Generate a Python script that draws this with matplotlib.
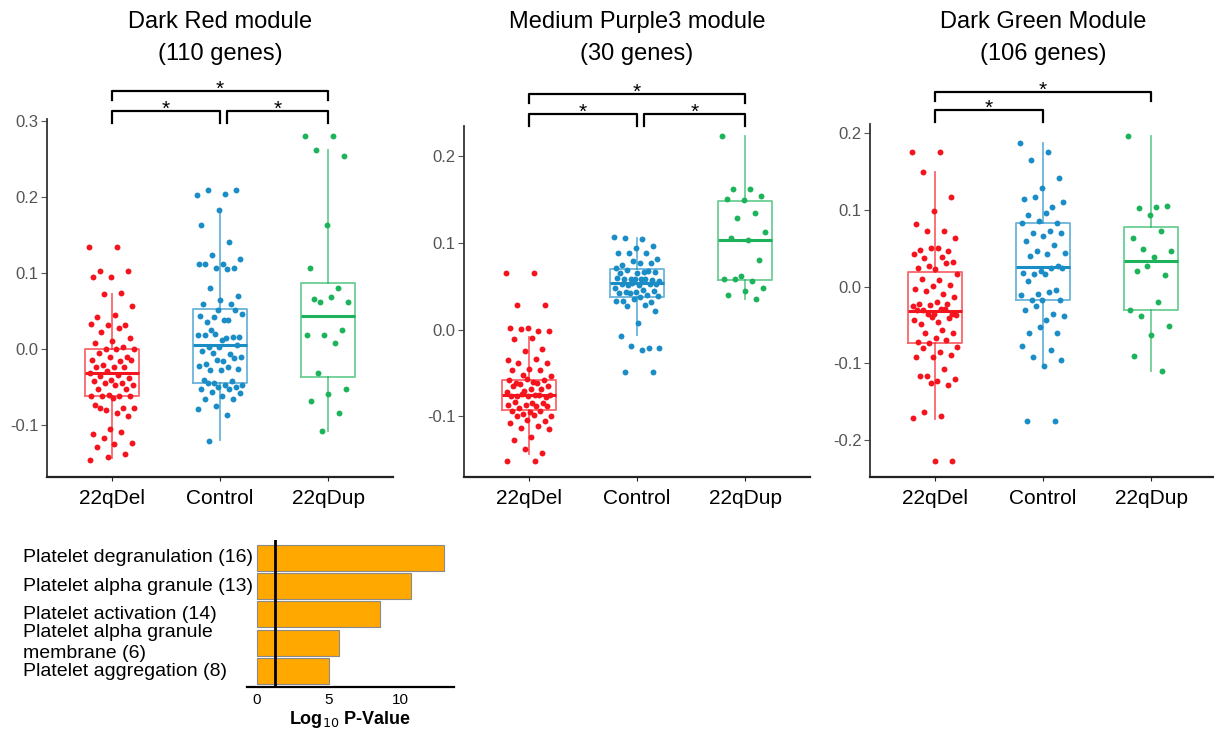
import matplotlib
matplotlib.use("Agg")
import matplotlib.pyplot as plt
import matplotlib.transforms as mtransforms
import numpy as np

plt.rcParams['font.family'] = ['Liberation Sans', 'DejaVu Sans']

groups = ['22qDel', 'Control', '22qDup']
group_colors = ['#F5141E', '#1A8CC6', '#1DB35A']

titles = ['Dark Red module\n(110 genes)',
          'Medium Purple3 module\n(30 genes)',
          'Dark Green Module\n(106 genes)']

# ---- Dark Red module: eigengene values per subject
darkred_del = [0.134, 0.134, 0.102, 0.102, 0.095, 0.095, 0.073, 0.072, 0.057, 0.045,
               0.042, 0.032, 0.031, 0.033, 0.028, 0.022, 0.015, 0.011, 0.008, 0.003,
               0.0, 0.0, 0.0, -0.005, -0.010, -0.011, -0.014, -0.016, -0.021, -0.015,
               -0.023, -0.023, -0.023, -0.029, -0.031, -0.034, -0.036, -0.038, -0.040, -0.042,
               -0.045, -0.045, -0.047, -0.047, -0.053, -0.053, -0.060, -0.062, -0.062, -0.062,
               -0.062, -0.064, -0.073, -0.077, -0.080, -0.077, -0.084, -0.077, -0.088, -0.105,
               -0.112, -0.109, -0.117, -0.123, -0.125, -0.128, -0.138, -0.142, -0.146]
darkred_ctrl = [0.202, 0.203, 0.209, 0.209, 0.183, 0.163, 0.140, 0.123, 0.118, 0.112,
                0.111, 0.106, 0.106, 0.111, 0.105, 0.080, 0.070, 0.065, 0.059, 0.059,
                0.042, 0.046, 0.038, 0.035, 0.051, 0.051, 0.043, 0.038, 0.025, 0.016,
                0.012, 0.018, 0.016, 0.020, 0.019, 0.014, 0.003, 0.005, 0.003, -0.003,
                -0.006, -0.005, -0.010, -0.016, -0.019, -0.012, -0.014, -0.022, -0.023, -0.028,
                -0.026, -0.028, -0.040, -0.042, -0.045, -0.047, -0.047, -0.045, -0.050, -0.050,
                -0.053, -0.053, -0.056, -0.058, -0.062, -0.066, -0.066, -0.075, -0.079, -0.087,
                -0.121]
darkred_dup = [0.280, 0.280, 0.261, 0.253, 0.163, 0.107, 0.080, 0.062, 0.062, 0.068,
               0.066, 0.025, 0.018, 0.018, 0.008, -0.032, -0.052, -0.059, -0.068, -0.084,
               -0.108]

# ---- Medium Purple3 module
purple_del = [0.065, 0.065, 0.029, 0.029, 0.002, 0.002, -0.001, 0.001, -0.002, -0.010,
              -0.011, -0.022, -0.025, -0.035, -0.034, -0.038, -0.038, -0.045, -0.047, -0.047,
              -0.052, -0.053, -0.060, -0.061, -0.058, -0.057, -0.058, -0.061, -0.063, -0.065,
              -0.069, -0.065, -0.069, -0.071, -0.072, -0.075, -0.077, -0.078, -0.076, -0.076,
              -0.075, -0.074, -0.075, -0.085, -0.083, -0.085, -0.087, -0.087, -0.088, -0.090,
              -0.088, -0.095, -0.094, -0.094, -0.097, -0.100, -0.099, -0.100, -0.105, -0.104,
              -0.108, -0.111, -0.113, -0.115, -0.124, -0.127, -0.142, -0.138, -0.151, -0.151]
purple_ctrl = [0.107, 0.105, 0.106, 0.096, 0.094, 0.088, 0.089, 0.088, 0.082, 0.077,
               0.075, 0.077, 0.079, 0.071, 0.067, 0.069, 0.067, 0.065, 0.065, 0.068,
               0.058, 0.056, 0.058, 0.058, 0.057, 0.058, 0.060, 0.058, 0.052, 0.053,
               0.051, 0.053, 0.053, 0.054, 0.048, 0.046, 0.044, 0.045, 0.044, 0.042,
               0.040, 0.042, 0.039, 0.038, 0.033, 0.032, 0.035, 0.033, 0.028, 0.027,
               0.022, 0.008, -0.007, -0.021, -0.019, -0.021, -0.023, -0.049, -0.049]
purple_dup = [0.224, 0.162, 0.162, 0.154, 0.150, 0.151, 0.135, 0.129, 0.113, 0.104,
              0.106, 0.080, 0.062, 0.058, 0.056, 0.058, 0.048, 0.045, 0.040, 0.035]

# ---- Dark Green module
green_del = [0.175, 0.175, 0.150, 0.117, 0.099, 0.082, 0.072, 0.073, 0.063, 0.051,
             0.048, 0.046, 0.051, 0.043, 0.039, 0.037, 0.032, 0.023, 0.025, 0.031,
             0.027, 0.017, 0.009, 0.010, 0.002, 0.001, -0.003, -0.010, -0.006, -0.013,
             -0.020, -0.022, -0.022, -0.024, -0.025, -0.029, -0.030, -0.036, -0.035, -0.030,
             -0.029, -0.035, -0.037, -0.046, -0.049, -0.041, -0.039, -0.043, -0.056, -0.060,
             -0.060, -0.067, -0.072, -0.070, -0.074, -0.078, -0.085, -0.080, -0.089, -0.091,
             -0.091, -0.107, -0.117, -0.120, -0.123, -0.117, -0.128, -0.125, -0.171, -0.169,
             -0.163, -0.227, -0.227]
green_ctrl = [0.187, 0.175, 0.165, 0.141, 0.128, 0.114, 0.104, 0.117, 0.110, 0.096,
              0.093, 0.083, 0.086, 0.083, 0.073, 0.070, 0.070, 0.066, 0.059, 0.054,
              0.047, 0.044, 0.042, 0.040, 0.027, 0.020, 0.018, 0.024, 0.017, 0.024,
              0.017, 0.007, -0.004, -0.009, -0.011, -0.007, -0.017, -0.017, -0.017, -0.030,
              -0.035, -0.025, -0.038, -0.043, -0.061, -0.060, -0.053, -0.077, -0.083, -0.091,
              -0.095, -0.103, -0.175, -0.175]
green_dup = [0.197, 0.104, 0.103, 0.105, 0.094, 0.064, 0.072, 0.049, 0.046, 0.039,
             0.021, 0.015, 0.027, -0.030, -0.020, -0.038, -0.051, -0.063, -0.090, -0.110]

# box statistics as drawn in the picture: (whisker low, Q1, median, Q3, whisker high)
darkred_box = [(-0.143, -0.062, -0.031, 0.000, 0.072),
               (-0.120, -0.0446, 0.0057, 0.0525, 0.181),
               (-0.108, -0.0372, 0.0429, 0.0866, 0.261)]
purple_box = [(-0.143, -0.0923, -0.0758, -0.0577, -0.008),
              (-0.0058, 0.0377, 0.0538, 0.070, 0.1058),
              (0.0354, 0.0569, 0.1038, 0.149, 0.224)]
green_box = [(-0.172, -0.073, -0.0313, 0.0196, 0.149),
             (-0.103, -0.0174, 0.0252, 0.0826, 0.187),
             (-0.1096, -0.0304, 0.0335, 0.0774, 0.1965)]

panel_values = [[darkred_del, darkred_ctrl, darkred_dup],
                [purple_del, purple_ctrl, purple_dup],
                [green_del, green_ctrl, green_dup]]
panel_boxes = [darkred_box, purple_box, green_box]
panel_ylims = [(-0.168, 0.302), (-0.170, 0.235), (-0.248, 0.212)]
panel_yticks = [[-0.1, 0.0, 0.1, 0.2, 0.3], [-0.1, 0.0, 0.1, 0.2], [-0.2, -0.1, 0.0, 0.1, 0.2]]
# significant pairwise comparisons, all marked "*"
panel_pairs = [[(1, 3), (1, 2), (2, 3)],
               [(1, 3), (1, 2), (2, 3)],
               [(1, 3), (1, 2)]]

# enrichment bar chart
terms = ['Platelet degranulation (16)', 'Platelet alpha granule (13)',
         'Platelet activation (14)', 'Platelet alpha granule\nmembrane (6)',
         'Platelet aggregation (8)']
log_p = [13.1, 10.8, 8.6, 5.75, 5.05]
p_cutoff = 1.3

W, H = 1214, 733
fig = plt.figure(figsize=(W / 100, H / 100), dpi=100)


def fx(px):
    return px / W


def fy(py):
    return 1 - py / H


axes_px = [(47, 119), (464, 126), (870, 124)]  # (left, top) in pixels
axis_bottom = 477
axis_width = 346

# y pixel rows of the comparison brackets (top bracket, lower bracket)
bracket_rows = [(91, 110.7), (94, 114), (92, 110)]

for i in range(3):
    left, top = axes_px[i]
    ax = fig.add_axes([fx(left), fy(axis_bottom), fx(axis_width), (axis_bottom - top) / H])
    ax.set_xlim(0.4, 3.6)
    ax.set_ylim(*panel_ylims[i])
    for side in ['top', 'right']:
        ax.spines[side].set_visible(False)
    ax.spines['left'].set_color('#333333')
    ax.spines['bottom'].set_color('#222222')
    ax.spines['left'].set_linewidth(1.3)
    ax.spines['bottom'].set_linewidth(1.6)

    # boxes
    for g in range(3):
        lo, q1, med, q3, hi = panel_boxes[i][g]
        stats = [dict(whislo=lo, q1=q1, med=med, q3=q3, whishi=hi, fliers=[])]
        c = group_colors[g]
        ax.bxp(stats, positions=[g + 1], widths=0.5, showcaps=False, showfliers=False,
               boxprops=dict(color=c, alpha=0.65, linewidth=1.3),
               whiskerprops=dict(color=c, alpha=0.65, linewidth=1.3),
               medianprops=dict(color=c, linewidth=2.2))
        vals = np.array(panel_values[i][g])
        jitter = ((np.arange(len(vals)) * 0.618034) % 1.0 - 0.5) * 0.42
        ax.scatter(g + 1 + jitter, vals, s=18, color=c, zorder=3, linewidths=0)

    ax.set_xticks([1, 2, 3], groups)
    ax.set_yticks(panel_yticks[i], [f'{t:.1f}' for t in panel_yticks[i]])
    ax.tick_params(axis='x', labelsize=15, colors='#222222', length=3, pad=6)
    ax.tick_params(axis='x', labelcolor='black')
    ax.tick_params(axis='y', labelsize=12, colors='#555555', length=4, pad=2)

    trans = mtransforms.blended_transform_factory(ax.transData, fig.transFigure)
    ax.text(2, fy(38), titles[i], transform=trans, ha='center', va='center',
            fontsize=17, linespacing=1.6)

    # comparison brackets
    top_row, low_row = bracket_rows[i]
    for a, b in panel_pairs[i]:
        if b - a == 2:
            y0, tick = top_row, 9
        else:
            y0, tick = low_row, 12
            if a == 2:
                a = a + 0.065
        ax.plot([a, a, b, b], [fy(y0 + tick), fy(y0), fy(y0), fy(y0 + tick)],
                transform=trans, color='black', lw=1.6, clip_on=False)
        ax.text((a + b) / 2, fy(y0 + 4), '*', transform=trans, ha='center',
                va='baseline', fontsize=15)

# ---- enrichment bars
axb = fig.add_axes([fx(247), fy(687), fx(207), (687 - 540) / H])
ypos = np.arange(len(terms))
axb.barh(ypos, log_p, height=0.92, color='#FFA800', edgecolor='#8A8A8A', linewidth=0.8)
axb.axvline(p_cutoff, color='black', lw=2)
axb.set_ylim(len(terms) - 0.435, -0.63)
axb.set_xlim(-0.68, 13.77)
for side in ['top', 'right', 'left']:
    axb.spines[side].set_visible(False)
axb.spines['bottom'].set_linewidth(1.6)
axb.set_yticks([])
axb.set_xticks([0, 5, 10])
axb.tick_params(axis='x', labelsize=11, length=0, pad=4)
axb.set_xlabel('Log$_{10}$ P-Value', fontsize=13, fontweight='bold', labelpad=2)
tb = mtransforms.blended_transform_factory(fig.transFigure, axb.transData)
for k, term in enumerate(terms):
    axb.text(fx(23), ypos[k], term, transform=tb, ha='left', va='center',
             fontsize=14, linespacing=1.3, clip_on=False)

fig.savefig('out.png', dpi=100)
